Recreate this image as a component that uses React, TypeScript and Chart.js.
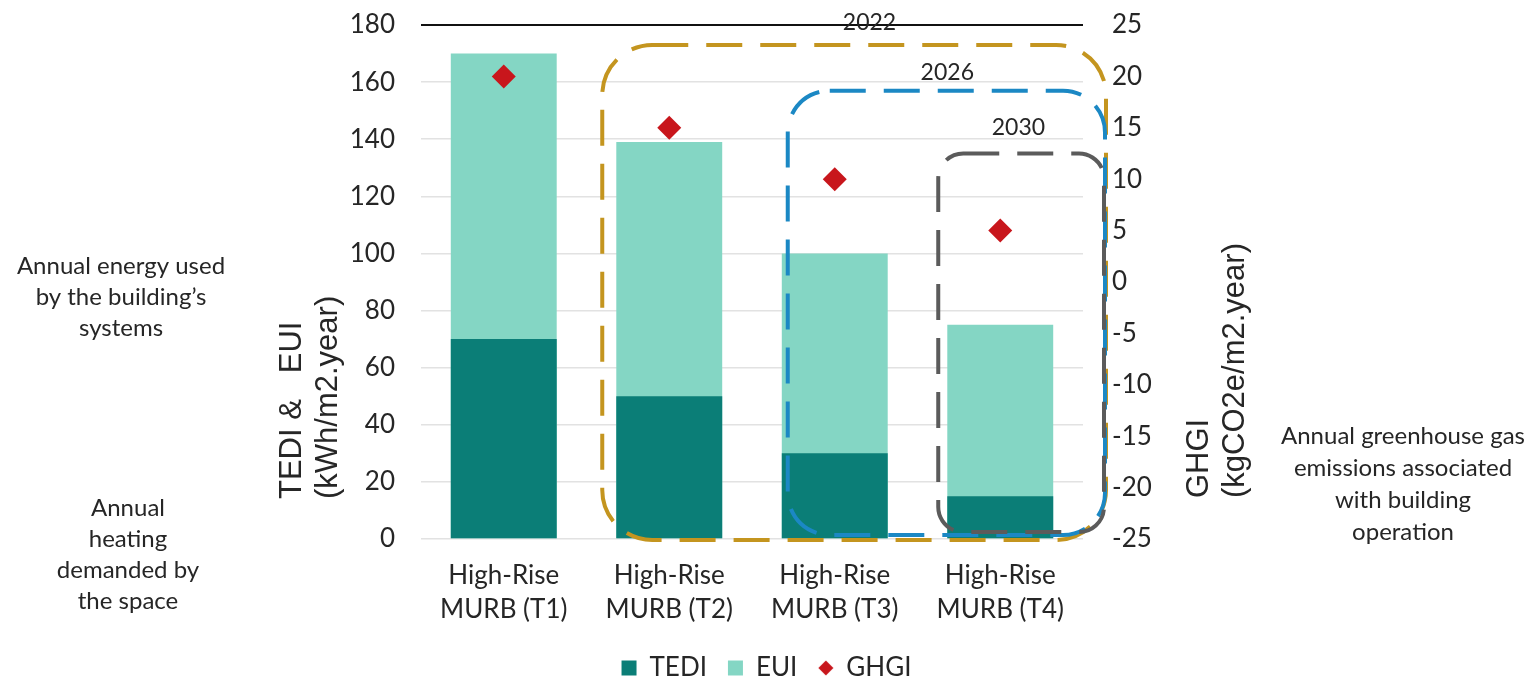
import React, { useEffect, useRef } from 'react';
import { Chart, registerables } from 'chart.js';

Chart.register(...registerables);

// ---------- data ----------
const categories = [
  ['High-Rise', 'MURB (T1)'],
  ['High-Rise', 'MURB (T2)'],
  ['High-Rise', 'MURB (T3)'],
  ['High-Rise', 'MURB (T4)'],
];
const tediValues = [70, 50, 30, 15];
const euiValues = [170, 139, 100, 75];
const ghgiValues = [20, 15, 10, 5];
const seriesNames = ['TEDI', 'EUI', 'GHGI'];
const leftAxisRange = [0, 180, 20];
const rightAxisRange = [-25, 25, 5];
const targetYears = ['2022', '2026', '2030'];
const leftAxisTitle = ['TEDI &   EUI', '(kWh/m2.year)'];
const rightAxisTitle = ['GHGI', '(kgCO2e/m2.year)'];
const noteEnergy = ['Annual energy used', 'by the building\u2019s', 'systems'];
const noteHeating = ['Annual', 'heating', 'demanded by', 'the space'];
const noteEmissions = ['Annual greenhouse gas', 'emissions associated', 'with building', 'operation'];

// ---------- styles ----------
const COL_TEDI = '#0b7e77';
const COL_EUI = '#84d6c4';
const COL_GHGI = '#c8161c';
const TEXT = '#262626';
const FONT = 'Lato, "Open Sans", sans-serif';
const TITLE_FONT = '"Liberation Sans", Arimo, sans-serif';
const CLEAR = 'rgba(0,0,0,0)';

// dashed target frames: first category covered, frame top (left-axis value), offsets
const frameStyles = [
  { color: '#c4951f', fromCat: 1, leftOff: -67, rightOff: 23, topVal: 173, bottomOff: 1, radius: 50, label: [2.21, 180.7] },
  { color: '#1b88c4', fromCat: 2, leftOff: -47, rightOff: 22, topVal: 157, bottomOff: -4, radius: 42, label: [2.68, 163.5] },
  { color: '#5b5b5b', fromCat: 3, leftOff: -62, rightOff: 21, topVal: 135, bottomOff: -7, radius: 25, label: [3.11, 144] },
];

function roundRectPath(ctx: CanvasRenderingContext2D, l: number, t: number, r: number, b: number, rad: number) {
  ctx.beginPath();
  ctx.moveTo(l + rad, t);
  ctx.lineTo(r - rad, t);
  ctx.arc(r - rad, t + rad, rad, -Math.PI / 2, 0);
  ctx.lineTo(r, b - rad);
  ctx.arc(r - rad, b - rad, rad, 0, Math.PI / 2);
  ctx.lineTo(l + rad, b);
  ctx.arc(l + rad, b - rad, rad, Math.PI / 2, Math.PI);
  ctx.lineTo(l, t + rad);
  ctx.arc(l + rad, t + rad, rad, Math.PI, Math.PI * 1.5);
  ctx.closePath();
}

function drawLines(ctx: CanvasRenderingContext2D, lines: string[], cx: number, firstY: number, step: number) {
  lines.forEach((s, i) => ctx.fillText(s, cx, firstY + i * step));
}

const overlayPlugin = {
  id: 'overlay',
  afterDatasetsDraw(chart: any) {
    const { ctx, chartArea, scales } = chart;
    const xs = scales.x;
    const ys = scales.y;
    ctx.save();
    frameStyles.forEach((f) => {
      const l = xs.getPixelForValue(f.fromCat) + f.leftOff;
      const r = chartArea.right + f.rightOff;
      const t = ys.getPixelForValue(f.topVal);
      const b = ys.getPixelForValue(0) + f.bottomOff;
      ctx.setLineDash([36, 18]);
      ctx.lineWidth = 4;
      ctx.strokeStyle = f.color;
      roundRectPath(ctx, l, t, r, b, f.radius);
      ctx.stroke();
    });
    ctx.setLineDash([]);
    ctx.fillStyle = TEXT;
    ctx.font = `23px ${FONT}`;
    ctx.textAlign = 'center';
    ctx.textBaseline = 'middle';
    frameStyles.forEach((f, i) => {
      ctx.fillText(targetYears[i], xs.getPixelForValue(f.label[0]), ys.getPixelForValue(f.label[1]));
    });
    ctx.restore();
  },
  afterDraw(chart: any) {
    const { ctx } = chart;
    ctx.save();
    ctx.fillStyle = TEXT;
    ctx.font = `31px ${TITLE_FONT}`;
    ctx.textAlign = 'left';
    ctx.textBaseline = 'alphabetic';
    const rot = (s: string, x: number, y: number) => {
      ctx.save();
      ctx.translate(x, y);
      ctx.rotate(-Math.PI / 2);
      ctx.fillText(s, 0, 0);
      ctx.restore();
    };
    rot(leftAxisTitle[0], 301, 499);
    rot(leftAxisTitle[1], 337, 499);
    rot(rightAxisTitle[0], 1208, 498);
    rot(rightAxisTitle[1], 1244, 498);
    ctx.font = `24px ${FONT}`;
    ctx.textAlign = 'center';
    ctx.textBaseline = 'middle';
    drawLines(ctx, noteEnergy, 121, 266, 31);
    drawLines(ctx, noteHeating, 128, 508, 31);
    drawLines(ctx, noteEmissions, 1403, 436, 32);
    ctx.restore();
  },
};

function makeDiamond(): HTMLCanvasElement {
  const c = document.createElement('canvas');
  c.width = 16;
  c.height = 16;
  const g = c.getContext('2d')!;
  g.fillStyle = COL_GHGI;
  g.beginPath();
  g.moveTo(8, 0.5);
  g.lineTo(15.5, 8);
  g.lineTo(8, 15.5);
  g.lineTo(0.5, 8);
  g.closePath();
  g.fill();
  return c;
}

export default function App() {
  const ref = useRef<HTMLCanvasElement>(null);

  useEffect(() => {
    document.body.style.margin = '0';
    const diamond = makeDiamond();
    const chart = new Chart(ref.current!, {
      type: 'bar',
      data: {
        labels: categories,
        datasets: [
          {
            type: 'bar',
            label: seriesNames[0],
            data: tediValues,
            backgroundColor: COL_TEDI,
            borderWidth: 0,
            order: 1,
            yAxisID: 'y',
            barPercentage: 0.64,
            categoryPercentage: 1,
          },
          {
            type: 'bar',
            label: seriesNames[1],
            data: euiValues,
            backgroundColor: COL_EUI,
            borderWidth: 0,
            order: 2,
            yAxisID: 'y',
            barPercentage: 0.64,
            categoryPercentage: 1,
          },
          {
            type: 'line',
            label: seriesNames[2],
            data: ghgiValues,
            yAxisID: 'y1',
            showLine: false,
            pointStyle: 'rectRot',
            pointRadius: 12,
            pointHoverRadius: 12,
            pointBorderWidth: 0,
            backgroundColor: COL_GHGI,
            borderColor: COL_GHGI,
            order: 0,
          } as any,
        ],
      },
      options: {
        responsive: false,
        animation: false,
        events: [],
        layout: { padding: { top: 25, bottom: -10, left: 0, right: 0 } },
        scales: {
          x: {
            stacked: true,
            grid: { display: false },
            border: { display: false },
            ticks: { color: TEXT, font: { family: FONT, size: 26, lineHeight: 1.3 }, padding: 12, maxRotation: 0 },
            afterFit: (s: any) => { s.height = 95; },
          },
          y: {
            position: 'left',
            stacked: false,
            min: leftAxisRange[0],
            max: leftAxisRange[1],
            ticks: { stepSize: leftAxisRange[2], color: TEXT, font: { family: FONT, size: 26 }, padding: 0 },
            grid: {
              drawTicks: true,
              tickLength: 26,
              tickColor: CLEAR,
              color: (c: any) => (c.tick && c.tick.value === leftAxisRange[1] ? '#111111' : '#e2e2e2'),
              lineWidth: (c: any) => (c.tick && c.tick.value === leftAxisRange[1] ? 2 : 1.5),
            },
            border: { display: false },
            afterFit: (s: any) => { s.width = 421; },
          },
          y1: {
            position: 'right',
            stacked: false,
            min: rightAxisRange[0],
            max: rightAxisRange[1],
            ticks: { stepSize: rightAxisRange[2], color: TEXT, font: { family: FONT, size: 26 }, padding: 0 },
            grid: { display: true, drawOnChartArea: false, drawTicks: true, tickLength: 29, tickColor: CLEAR, color: CLEAR },
            border: { display: false },
            afterFit: (s: any) => { s.width = 450; },
          },
        },
        plugins: {
          legend: {
            position: 'bottom',
            labels: {
              usePointStyle: true,
              boxWidth: 15,
              boxHeight: 15,
              padding: 21,
              color: TEXT,
              font: { family: FONT, size: 26 },
              sort: (a: any, b: any) => a.datasetIndex - b.datasetIndex,
              generateLabels: (ch: any) => {
                const items = (Chart.defaults.plugins.legend.labels as any).generateLabels(ch);
                items.forEach((it: any) => {
                  it.pointStyle = it.datasetIndex === 2 ? diamond : 'rect';
                  it.lineWidth = 0;
                });
                return items;
              },
            },
          },
          tooltip: { enabled: false },
        },
      },
      plugins: [overlayPlugin],
    });
    return () => chart.destroy();
  }, []);

  return (
    <div style={{ width: 1533, height: 681 }}>
      <canvas ref={ref} width={1533} height={681} style={{ display: 'block' }} />
    </div>
  );
}
